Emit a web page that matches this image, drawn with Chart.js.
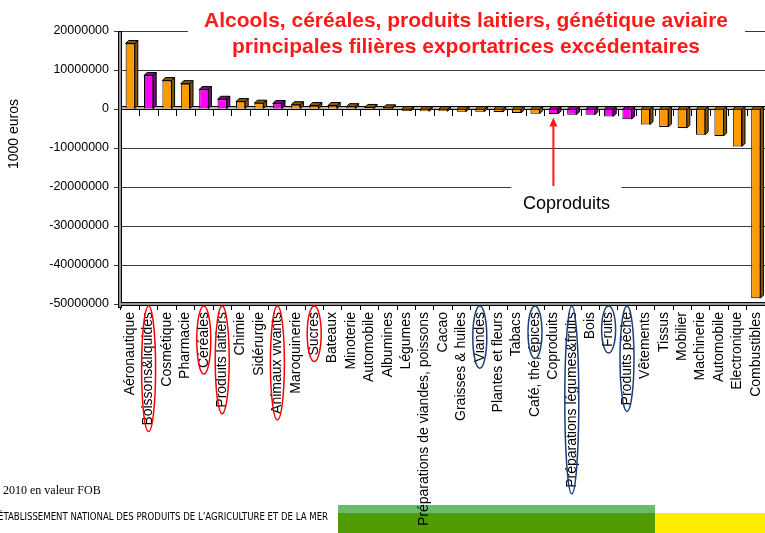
<!DOCTYPE html>
<html>
<head>
<meta charset="utf-8">
<script src="https://cdn.jsdelivr.net/npm/chart.js@4/dist/chart.umd.min.js"></script>
<style>
  body { margin: 0; background: #fff; }
  canvas { display: block; }
</style>
</head>
<body>
<canvas id="soldes" width="765" height="533"></canvas>
<script>
// soldes commerciaux 2010, en 1000 euros
const secteurs = [
  'Aéronautique', 'Boissons&liquides', 'Cosmétique', 'Pharmacie', 'Céréales',
  'Produits laitiers', 'Chimie', 'Sidérurgie', 'Animaux vivants', 'Maroquinerie',
  'Sucres', 'Bateaux', 'Minoterie', 'Automobile', 'Albumines', 'Légumes',
  'Préparations de viandes, poissons', 'Cacao', 'Graisses & huiles', 'Viandes',
  'Plantes et fleurs', 'Tabacs', 'Café, thé, épices', 'Coproduits',
  'Préparations légumes&fruits', 'Bois', 'Fruits', 'Produits pêche', 'Vêtements',
  'Tissus', 'Mobilier', 'Machinerie', 'Automobile', 'Electronique', 'Combustibles'
];
const soldes = [
  16800000, 8600000, 7300000, 6500000, 5000000,
  2500000, 1900000, 1500000, 1400000, 1100000,
  900000, 900000, 600000, 400000, 300000, -500000,
  -600000, -600000, -700000, -700000,
  -800000, -1000000, -1200000, -1300000,
  -1500000, -1500000, -1900000, -2600000, -4000000,
  -4600000, -4900000, -6600000, -6900000, -9600000, -48500000
];
// barres en magenta
const filieresAgri = [1, 4, 5, 8, 23, 24, 25, 26, 27];
// étiquettes entourées : [index, couleur, partie entourée]
const entoures = [
  [1, 'red', null], [4, 'red', null], [5, 'red', null], [8, 'red', null], [10, 'red', null],
  [19, 'navy', null], [22, 'navy', 'épices'], [24, 'navy', null], [26, 'navy', null], [27, 'navy', null]
];
const yTicks = [20000000, 10000000, 0, -10000000, -20000000, -30000000, -40000000, -50000000];

const police = '"Liberation Sans", Arial, sans-serif';
const orange = '#ff9900', magenta = '#ff00ff';
const couleurs = soldes.map((v, i) => filieresAgri.includes(i) ? magenta : orange);
const cotes = soldes.map((v, i) => filieresAgri.includes(i) ? '#8a008a' : '#8c5400');

const decor = {
  id: 'decor',
  beforeDraw(chart) {
    const ctx = chart.ctx;
    ctx.save();
    ctx.fillStyle = '#fff';
    ctx.fillRect(0, 0, chart.width, chart.height);
    ctx.fillStyle = '#68bd6c';
    ctx.fillRect(338, 505, 317, 8);
    ctx.fillStyle = '#4f9b00';
    ctx.fillRect(338, 513, 317, 20);
    ctx.fillStyle = '#ffec00';
    ctx.fillRect(655, 513, 110, 20);
    ctx.restore();
  },
  beforeDatasetsDraw(chart) {
    const ctx = chart.ctx;
    const area = chart.chartArea;
    const y0 = chart.scales.y.getPixelForValue(0);
    const pas = (area.right - area.left) / secteurs.length;
    const d = 3;
    ctx.save();

    // sol à zéro
    ctx.strokeStyle = '#000';
    ctx.lineWidth = 1;
    ctx.fillStyle = '#bbb';
    ctx.fillRect(area.left, y0 - 2, area.right - area.left, 2);
    ctx.beginPath();
    ctx.moveTo(area.left, y0 - 2.5); ctx.lineTo(area.right, y0 - 2.5);
    ctx.moveTo(area.left, y0 + 0.5); ctx.lineTo(area.right, y0 + 0.5);
    for (let i = 1; i <= secteurs.length; i++) {
      const xt = Math.round(area.left + i * pas) + 0.5;
      ctx.moveTo(xt, y0); ctx.lineTo(xt, y0 + 7);
    }
    ctx.stroke();

    // faces latérales des barres
    chart.getDatasetMeta(0).data.forEach(function (bar, i) {
      const w = bar.width / 2;
      const top = Math.min(bar.y, bar.base);
      const bas = Math.max(bar.y, bar.base);
      ctx.fillStyle = cotes[i];
      ctx.beginPath();
      ctx.moveTo(bar.x + w, top);
      ctx.lineTo(bar.x + w + d, top - d);
      ctx.lineTo(bar.x + w + d, bas - d);
      ctx.lineTo(bar.x + w, bas);
      ctx.closePath();
      ctx.fill(); ctx.stroke();
      ctx.beginPath();
      ctx.moveTo(bar.x - w, top);
      ctx.lineTo(bar.x - w + d, top - d);
      ctx.lineTo(bar.x + w + d, top - d);
      ctx.lineTo(bar.x + w, top);
      ctx.closePath();
      ctx.fill(); ctx.stroke();
    });
    ctx.restore();
  },
  afterDraw(chart) {
    const ctx = chart.ctx;
    const area = chart.chartArea;
    const x = chart.scales.x, y = chart.scales.y;
    ctx.save();

    // mur et fond
    ctx.fillStyle = '#999';
    ctx.strokeStyle = '#000';
    ctx.lineWidth = 1;
    ctx.fillRect(area.left - 2, area.top, 3, area.bottom - area.top + 3);
    ctx.strokeRect(area.left - 2.5, area.top + 0.5, 3, area.bottom - area.top + 3);
    ctx.fillRect(area.left, area.bottom - 1, area.right - area.left, 3);
    ctx.beginPath();
    ctx.moveTo(area.left, area.bottom - 1.5); ctx.lineTo(area.right, area.bottom - 1.5);
    ctx.moveTo(area.left, area.bottom + 1.5); ctx.lineTo(area.right, area.bottom + 1.5);
    ctx.stroke();

    // titre
    ctx.fillStyle = '#fff';
    ctx.fillRect(188, 0, 557, 60);
    ctx.fillStyle = '#ff1a1a';
    ctx.font = 'bold 21px ' + police;
    ctx.textAlign = 'center';
    ctx.textBaseline = 'alphabetic';
    ctx.fillText('Alcools, céréales, produits laitiers, génétique aviaire', 466, 27);
    ctx.fillText('principales filières exportatrices excédentaires', 466, 53);

    // flèche coproduits
    const xa = x.getPixelForValue(23);
    const yb = y.getPixelForValue(-20000000);
    const yh = y.getPixelForValue(-2200000);
    ctx.strokeStyle = '#ff1a1a';
    ctx.fillStyle = '#ff1a1a';
    ctx.lineWidth = 2;
    ctx.beginPath();
    ctx.moveTo(xa, yb); ctx.lineTo(xa, yh + 8);
    ctx.stroke();
    ctx.beginPath();
    ctx.moveTo(xa, yh); ctx.lineTo(xa - 4, yh + 9); ctx.lineTo(xa + 4, yh + 9);
    ctx.closePath(); ctx.fill();
    ctx.fillStyle = '#fff';
    ctx.fillRect(xa - 42, yb - 1, 110, 28);
    ctx.fillStyle = '#000';
    ctx.font = '18px ' + police;
    ctx.fillText('Coproduits', xa + 13, yb + 22);

    // ellipses
    ctx.font = '14px ' + police;
    const haut = area.bottom + 6 + 2;
    ctx.lineWidth = 1.5;
    entoures.forEach(function (e) {
      const xe = x.getPixelForValue(e[0]);
      const texte = e[2] || secteurs[e[0]];
      const lg = ctx.measureText(texte).width;
      ctx.strokeStyle = e[1] === 'red' ? '#ff0000' : '#1a3f7a';
      ctx.beginPath();
      ctx.ellipse(xe, haut + lg / 2, 7, lg / 2 + 6, 0, 0, Math.PI * 2);
      ctx.stroke();
    });

    // titre axe y
    ctx.fillStyle = '#000';
    ctx.font = '14px ' + police;
    ctx.translate(13, 134);
    ctx.rotate(-Math.PI / 2);
    ctx.fillText('1000 euros', 0, 5);
    ctx.setTransform(1, 0, 0, 1, 0, 0);

    // pied
    ctx.textAlign = 'left';
    ctx.font = '12px "Liberation Serif", "DejaVu Serif", serif';
    ctx.fillText('2010 en valeur FOB', 3, 494);
    ctx.font = '11px "DejaVu Sans Condensed", "DejaVu Sans", sans-serif';
    const org = 'ÉTABLISSEMENT NATIONAL DES PRODUITS DE L\u2019AGRICULTURE ET DE LA MER';
    const sx = 330 / ctx.measureText(org).width;
    ctx.translate(-2, 520);
    ctx.scale(sx, 1);
    ctx.fillText(org, 0, 0);
    ctx.restore();
  }
};

new Chart(document.getElementById('soldes'), {
  type: 'bar',
  data: {
    labels: secteurs,
    datasets: [{
      data: soldes,
      backgroundColor: couleurs,
      borderColor: '#000',
      borderWidth: 1,
      barPercentage: 0.5,
      categoryPercentage: 1
    }]
  },
  options: {
    responsive: false,
    devicePixelRatio: 1,
    animation: false,
    layout: { padding: { top: 31, left: 0, right: 0, bottom: 0 } },
    plugins: {
      legend: { display: false },
      tooltip: { enabled: false }
    },
    scales: {
      x: {
        grid: { drawOnChartArea: false, tickLength: 6, color: '#000' },
        border: { display: false },
        ticks: {
          autoSkip: false, minRotation: 90, maxRotation: 90, padding: 2,
          color: '#000', font: { family: police, size: 14 }
        },
        afterFit(scale) { scale.height = 229; scale.paddingRight = 0; scale.paddingLeft = 0; }
      },
      y: {
        min: -50000000,
        max: 20000000,
        afterBuildTicks(scale) { scale.ticks = yTicks.map(v => ({ value: v })); },
        grid: { color: '#3a3a3a', tickLength: 7, lineWidth: 1 },
        border: { display: false },
        ticks: {
          padding: 5, color: '#000', font: { family: police, size: 12.5 },
          callback: v => String(v)
        },
        afterFit(scale) { scale.width = 121; }
      }
    }
  },
  plugins: [decor]
});
</script>
</body>
</html>
